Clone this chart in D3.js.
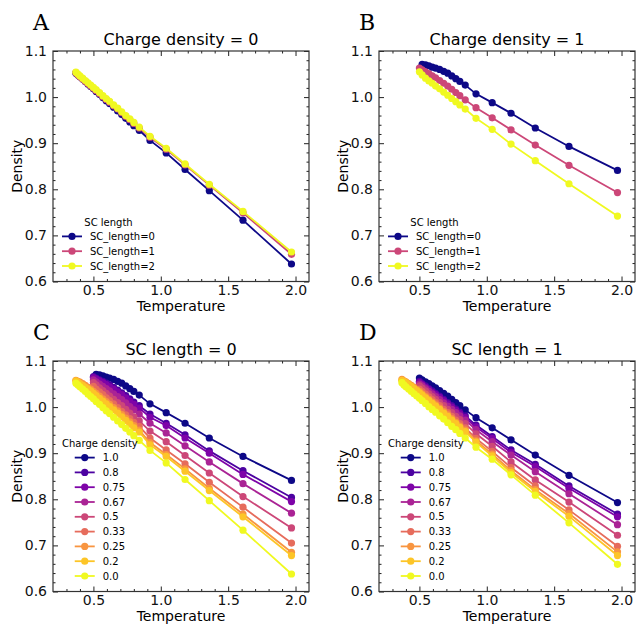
<!DOCTYPE html>
<html>
<head>
<meta charset="utf-8">
<script src="https://cdn.jsdelivr.net/npm/d3@7"></script>
<style>
  body { margin: 0; background: #fff; }
  svg { display: block; font-family: "DejaVu Sans", sans-serif; }
</style>
</head>
<body>
<div id="canvas"></div>
<script>
"use strict";

/**** DATA ****/
// temperatures shared by every run, high to low; shorter series stop earlier
let temps = [1.97, 1.61, 1.36, 1.18, 1.04, 0.92, 0.84, 0.80, 0.77, 0.74, 0.71, 0.68, 0.65,
    0.62, 0.595, 0.57, 0.545, 0.52, 0.50, 0.48, 0.46, 0.44, 0.42, 0.40, 0.385, 0.37];

// charge density = 0
let cd0sc0 = [0.638, 0.733, 0.797, 0.843, 0.879, 0.906, 0.928, 0.938, 0.946, 0.954, 0.962, 0.970, 0.978,
    0.986, 0.992, 0.999, 1.006, 1.012, 1.018, 1.023, 1.028, 1.034, 1.039, 1.044, 1.048, 1.052];
let cd0sc1 = [0.659, 0.749, 0.809, 0.853, 0.887, 0.913, 0.933, 0.943, 0.951, 0.958, 0.966, 0.974, 0.981,
    0.989, 0.995, 1.001, 1.008, 1.014, 1.019, 1.024, 1.029, 1.034, 1.039, 1.044, 1.048, 1.053];
let cd0sc2 = [0.664, 0.752, 0.811, 0.855, 0.889, 0.915, 0.935, 0.945, 0.953, 0.960, 0.968, 0.976, 0.983,
    0.991, 0.997, 1.003, 1.010, 1.016, 1.021, 1.026, 1.031, 1.036, 1.041, 1.046, 1.050, 1.054];

// charge density = 1
let cd1sc0 = [0.841, 0.893, 0.933, 0.965, 0.988, 1.007, 1.026, 1.034, 1.040, 1.046, 1.052, 1.056, 1.060,
    1.063, 1.065, 1.068, 1.070, 1.071];
let cd1sc1 = [0.793, 0.852, 0.896, 0.929, 0.955, 0.977, 0.994, 1.003, 1.010, 1.017, 1.024, 1.030, 1.036,
    1.042, 1.046, 1.051, 1.055, 1.059, 1.063];
let cd1sc2 = [0.742, 0.812, 0.862, 0.898, 0.930, 0.954, 0.974, 0.983, 0.990, 0.997, 1.004, 1.011, 1.018,
    1.024, 1.030, 1.035, 1.041, 1.048, 1.055];

// SC length = 0, other charge densities
let sc0cd08 = [0.804, 0.862, 0.905, 0.940, 0.965, 0.985, 1.003, 1.011, 1.018, 1.025, 1.031, 1.037, 1.043,
    1.048, 1.052, 1.056, 1.059, 1.063, 1.066];
let sc0cd075 = [0.795, 0.854, 0.900, 0.933, 0.960, 0.978, 0.998, 1.006, 1.013, 1.020, 1.027, 1.033, 1.039,
    1.044, 1.049, 1.053, 1.057, 1.061, 1.064];
let sc0cd067 = [0.770, 0.834, 0.881, 0.916, 0.944, 0.965, 0.985, 0.994, 1.001, 1.009, 1.016, 1.023, 1.029,
    1.035, 1.040, 1.045, 1.050, 1.055, 1.059];
let sc0cd05 = [0.738, 0.806, 0.857, 0.895, 0.925, 0.948, 0.970, 0.979, 0.987, 0.995, 1.003, 1.010, 1.017,
    1.024, 1.030, 1.036, 1.042, 1.048, 1.053];
let sc0cd033 = [0.705, 0.783, 0.837, 0.877, 0.907, 0.933, 0.958, 0.967, 0.975, 0.983, 0.991, 0.999, 1.007,
    1.014, 1.020, 1.027, 1.033, 1.039, 1.045];
let sc0cd025 = [0.685, 0.768, 0.824, 0.866, 0.897, 0.923, 0.950, 0.960, 0.968, 0.976, 0.984, 0.992, 0.999,
    1.006, 1.012, 1.018, 1.024, 1.030, 1.034, 1.039, 1.043, 1.047, 1.051, 1.054, 1.056, 1.058];
let sc0cd02 = [0.678, 0.762, 0.819, 0.861, 0.893, 0.918, 0.946, 0.955, 0.963, 0.971, 0.979, 0.987, 0.994,
    1.001, 1.007, 1.013, 1.019, 1.025, 1.030, 1.035, 1.039, 1.043, 1.047, 1.051, 1.054, 1.057];

// SC length = 1, other charge densities
let sc1cd08 = [0.768, 0.829, 0.876, 0.907, 0.936, 0.961, 0.981, 0.989, 0.996, 1.003, 1.010, 1.017, 1.024,
    1.030, 1.035, 1.040, 1.046, 1.051, 1.056];
let sc1cd075 = [0.762, 0.824, 0.871, 0.902, 0.932, 0.957, 0.977, 0.986, 0.993, 1.000, 1.007, 1.014, 1.021,
    1.027, 1.032, 1.038, 1.043, 1.049, 1.053];
let sc1cd067 = [0.745, 0.812, 0.860, 0.896, 0.925, 0.951, 0.972, 0.981, 0.988, 0.995, 1.002, 1.009, 1.016,
    1.023, 1.029, 1.034, 1.040, 1.046, 1.050];
let sc1cd05 = [0.722, 0.794, 0.842, 0.881, 0.915, 0.942, 0.964, 0.973, 0.980, 0.988, 0.995, 1.003, 1.010,
    1.017, 1.023, 1.029, 1.035, 1.041, 1.046];
let sc1cd033 = [0.698, 0.777, 0.829, 0.869, 0.904, 0.932, 0.955, 0.964, 0.972, 0.980, 0.988, 0.995, 1.003,
    1.010, 1.016, 1.022, 1.028, 1.034, 1.039];
let sc1cd025 = [0.686, 0.769, 0.821, 0.862, 0.898, 0.927, 0.950, 0.959, 0.967, 0.975, 0.983, 0.990, 0.998,
    1.005, 1.011, 1.017, 1.023, 1.029, 1.034, 1.038, 1.043, 1.047, 1.051, 1.055, 1.057, 1.060];
let sc1cd02 = [0.678, 0.763, 0.817, 0.858, 0.894, 0.924, 0.947, 0.956, 0.964, 0.972, 0.980, 0.987, 0.995,
    1.002, 1.008, 1.014, 1.020, 1.026, 1.031, 1.036, 1.040, 1.045, 1.049, 1.053, 1.056, 1.058];

let scLabels = ["SC_length=0", "SC_length=1", "SC_length=2"];
let chargeLabels = ["1.0", "0.8", "0.75", "0.67", "0.5", "0.33", "0.25", "0.2", "0.0"];

let xTicks = [0.5, 1.0, 1.5, 2.0];
let xMinor = [0.3, 0.4, 0.6, 0.7, 0.8, 0.9, 1.1, 1.2, 1.3, 1.4, 1.6, 1.7, 1.8, 1.9];
let yTicks = [0.6, 0.7, 0.8, 0.9, 1.0, 1.1];

/**** CONFIGURATION ****/
let svgWidth = 636;
let svgHeight = 625;
let plotW = 256;
let plotH = 230.5;
let markerR = 3.6;
let lineW = 1.8;

let panels = [
    { letter: "A", title: "Charge density = 0", legendTitle: "SC length", labels: scLabels,
      series: [cd0sc0, cd0sc1, cd0sc2], left: 53, top: 51 },
    { letter: "B", title: "Charge density = 1", legendTitle: "SC length", labels: scLabels,
      series: [cd1sc0, cd1sc1, cd1sc2], left: 379, top: 51 },
    { letter: "C", title: "SC length = 0", legendTitle: "Charge density", labels: chargeLabels,
      series: [cd1sc0, sc0cd08, sc0cd075, sc0cd067, sc0cd05, sc0cd033, sc0cd025, sc0cd02, cd0sc0],
      left: 53, top: 361 },
    { letter: "D", title: "SC length = 1", legendTitle: "Charge density", labels: chargeLabels,
      series: [cd1sc1, sc1cd08, sc1cd075, sc1cd067, sc1cd05, sc1cd033, sc1cd025, sc1cd02, cd0sc1],
      left: 379, top: 361 }
];

let svg = d3.select("#canvas")
    .append("svg")
    .attr("width", svgWidth)
    .attr("height", svgHeight);

svg.append("rect")
    .attr("width", svgWidth)
    .attr("height", svgHeight)
    .attr("fill", "white");

panels.forEach(drawPanel);

function drawPanel(p) {
    let g = svg.append("g");
    let bottom = p.top + plotH;
    let right = p.left + plotW;

    let xScale = d3.scaleLinear().domain([0.2, 2.1]).range([p.left, right]);
    let yScale = d3.scaleLinear().domain([0.6, 1.1]).range([bottom, p.top]);
    let color = function(i) {
        return d3.interpolatePlasma(i / (p.series.length - 1));
    };

    /**** SERIES ****/
    let line = d3.line()
        .x(function(d) { return xScale(d[0]); })
        .y(function(d) { return yScale(d[1]); });

    p.series.forEach(function(vals, i) {
        let pts = vals.map(function(v, k) { return [temps[k], v]; });
        let sg = g.append("g");
        sg.append("path")
            .attr("d", line(pts))
            .attr("fill", "none")
            .attr("stroke", color(i))
            .attr("stroke-width", lineW);
        sg.selectAll("circle")
            .data(pts)
            .join("circle")
            .attr("cx", function(d) { return xScale(d[0]); })
            .attr("cy", function(d) { return yScale(d[1]); })
            .attr("r", markerR)
            .attr("fill", color(i));
    });

    /**** AXES (ticks pointing inward on all four sides) ****/
    let yMinor = d3.range(0.62, 1.1, 0.02).filter(function(v) {
        return Math.abs(v * 10 - Math.round(v * 10)) > 0.01;
    });

    function styleAxis(a) {
        a.select(".domain").remove();
        a.selectAll("line").attr("stroke", "#222");
        a.selectAll("text")
            .attr("fill", "#111")
            .style("font-size", "14px")
            .style("font-family", "DejaVu Sans");
    }

    g.append("g").attr("transform", `translate(0,${bottom})`)
        .call(d3.axisBottom(xScale).tickValues(xTicks).tickSize(-5).tickPadding(4)
            .tickFormat(d3.format(".1f")))
        .call(styleAxis);
    g.append("g").attr("transform", `translate(0,${bottom})`)
        .call(d3.axisBottom(xScale).tickValues(xMinor).tickSize(-2.5).tickFormat(""))
        .call(styleAxis);
    g.append("g").attr("transform", `translate(0,${p.top})`)
        .call(d3.axisTop(xScale).tickValues(xTicks).tickSize(-5).tickFormat(""))
        .call(styleAxis);
    g.append("g").attr("transform", `translate(0,${p.top})`)
        .call(d3.axisTop(xScale).tickValues(xMinor).tickSize(-2.5).tickFormat(""))
        .call(styleAxis);

    g.append("g").attr("transform", `translate(${p.left},0)`)
        .call(d3.axisLeft(yScale).tickValues(yTicks).tickSize(-5).tickPadding(6)
            .tickFormat(d3.format(".1f")))
        .call(styleAxis);
    g.append("g").attr("transform", `translate(${p.left},0)`)
        .call(d3.axisLeft(yScale).tickValues(yMinor).tickSize(-2.5).tickFormat(""))
        .call(styleAxis);
    g.append("g").attr("transform", `translate(${right},0)`)
        .call(d3.axisRight(yScale).tickValues(yTicks).tickSize(-5).tickFormat(""))
        .call(styleAxis);
    g.append("g").attr("transform", `translate(${right},0)`)
        .call(d3.axisRight(yScale).tickValues(yMinor).tickSize(-2.5).tickFormat(""))
        .call(styleAxis);

    g.append("rect")
        .attr("x", p.left)
        .attr("y", p.top)
        .attr("width", plotW)
        .attr("height", plotH)
        .attr("fill", "none")
        .attr("stroke", "#333")
        .attr("stroke-width", 1.2);

    /**** TEXT ****/
    g.append("text")
        .attr("x", p.left + plotW / 2)
        .attr("y", p.top - 6)
        .attr("text-anchor", "middle")
        .style("font-size", "16px")
        .text(p.title);

    g.append("text")
        .attr("x", p.left + plotW / 2)
        .attr("y", bottom + 29)
        .attr("text-anchor", "middle")
        .style("font-size", "14px")
        .text("Temperature");

    g.append("text")
        .attr("transform", `translate(${p.left - 31},${p.top + plotH / 2}) rotate(-90)`)
        .attr("text-anchor", "middle")
        .style("font-size", "14px")
        .text("Density");

    g.append("text")
        .attr("x", p.left - 20)
        .attr("y", p.top - 21)
        .style("font-family", "DejaVu Serif")
        .style("font-size", "22px")
        .text(p.letter);

    /**** LEGEND ****/
    let rowH = 14.8;
    let n = p.labels.length;
    let lastRow = bottom - 15.5;
    let firstRow = lastRow - (n - 1) * rowH;
    let boxLeft = p.left + 9;

    let lg = g.append("g").style("font-size", "10px");
    let titleText = lg.append("text")
        .attr("y", firstRow - 14)
        .attr("dy", "0.35em")
        .attr("text-anchor", "middle")
        .text(p.legendTitle);
    let titleW = titleText.node().getComputedTextLength();

    let labelNodes = [];
    let maxLabelW = 0;
    p.labels.forEach(function(lab, i) {
        let t = lg.append("text")
            .attr("y", firstRow + i * rowH)
            .attr("dy", "0.35em")
            .text(lab);
        labelNodes.push(t);
        maxLabelW = Math.max(maxLabelW, t.node().getComputedTextLength());
    });

    let entriesW = 20 + 8 + maxLabelW;
    let contentW = Math.max(titleW, entriesW);
    let center = boxLeft + contentW / 2;
    let entryLeft = center - entriesW / 2;
    titleText.attr("x", center);

    p.labels.forEach(function(lab, i) {
        let cy = firstRow + i * rowH;
        lg.append("line")
            .attr("x1", entryLeft)
            .attr("x2", entryLeft + 20)
            .attr("y1", cy)
            .attr("y2", cy)
            .attr("stroke", color(i))
            .attr("stroke-width", lineW);
        lg.append("circle")
            .attr("cx", entryLeft + 10)
            .attr("cy", cy)
            .attr("r", markerR)
            .attr("fill", color(i));
        labelNodes[i].attr("x", entryLeft + 28);
    });
}
</script>
</body>
</html>
